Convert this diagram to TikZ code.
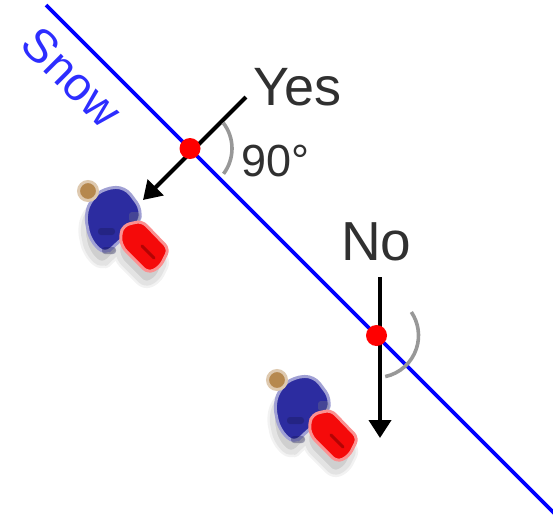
\documentclass[tikz,border=0pt]{standalone}
\usepackage{fontspec}
\setmainfont{Liberation Sans}
\usetikzlibrary{arrows.meta}

\definecolor{snowblue}{RGB}{0,0,255}
\definecolor{labelblue}{RGB}{45,45,255}
\definecolor{skin}{RGB}{182,136,78}
\definecolor{shirt}{RGB}{44,44,160}
\definecolor{pants}{RGB}{245,10,10}
\definecolor{anglegray}{RGB}{152,152,152}
\definecolor{textgray}{RGB}{48,48,48}

\tikzset{
  snowline/.style={draw=snowblue, line width=3.6pt},
  dirarrow/.style={draw=black, line width=4pt, -{Triangle[length=18pt,width=22pt]}},
  anglemark/.style={draw=anglegray, line width=3.6pt},
  hitdot/.style={circle, fill=red, minimum size=21pt, inner sep=0pt},
  caption/.style={text=textgray, inner sep=0pt},
  torsopath/.style={rounded corners=9pt},
  legspath/.style={rounded corners=6pt},
  % small walking figure seen from above; origin at the head
  walker/.pic={
    % soft shadow under the figure
    \begin{scope}[shift={(-3,12)}]
      \foreach \c/\w in {gray!10/10pt, gray!22/5pt} {
        \filldraw[fill=gray!38, draw=\c, line width=\w, line join=round, torsopath]
          (17,-3) -- (37,-4) -- (54,19) -- (50,34) -- (27,54) -- (17,64)
          -- (2,49) -- (-3,24) -- (4,7) -- cycle;
        \filldraw[fill=gray!38, draw=\c, line width=\w, line join=round, legspath]
          (36,34) -- (54,30) -- (81,58) -- (72,76) -- (60,82) -- (34,56) -- (32,44) -- cycle;
      }
    \end{scope}
    % torso and arms
    \filldraw[fill=shirt, draw=shirt!45, line width=3pt, torsopath]
      (17,-3) -- (37,-4) -- (54,19) -- (50,34) -- (27,54) -- (17,64)
      -- (2,49) -- (-3,24) -- (4,7) -- cycle;
    \fill[black!50!shirt, opacity=0.35, rounded corners=3pt] (10,37) rectangle (27,44);
    \fill[black!50!shirt, opacity=0.35, rounded corners=3pt] (14,56) rectangle (28,63);
    \fill[gray, opacity=0.3, rounded corners=3pt] (41,21) rectangle (52,31);
    % legs
    \filldraw[fill=pants, draw=pants!45, line width=3pt, legspath]
      (36,34) -- (54,30) -- (81,58) -- (72,76) -- (60,82) -- (34,56) -- (32,44) -- cycle;
    \draw[red!45!black, opacity=0.5, line width=3pt, line cap=round] (54,55) -- (66,67);
    % head
    \filldraw[fill=skin, draw=skin!45, line width=3pt] (0,0) circle [radius=9.5];
  },
}

\begin{document}
\begin{tikzpicture}[x=1pt, y=-1pt]
  \useasboundingbox (0,0) rectangle (553,515);

  % slope line
  \coordinate (snowTop) at (46,5);
  \coordinate (snowEnd) at (560,519);
  \begin{scope}
    \clip (0,0) rectangle (553,515);
    \draw[snowline] (snowTop) -- (snowEnd);
  \end{scope}
  \node[text=labelblue, rotate=-45, inner sep=0pt,
        font=\fontsize{47}{50}\selectfont] (snowlabel) at (72,77) {Snow};

  % figures
  \pic (walkerA) at (88,191) {walker};
  \pic (walkerB) at (277,380) {walker};

  % perpendicular approach
  \coordinate (yesTail) at (246,97);
  \coordinate (yesTip) at (143,200);
  \draw[dirarrow] (yesTail) -- (yesTip);

  % vertical approach
  \coordinate (noTail) at (380,277);
  \coordinate (noTip) at (380,438);
  \draw[dirarrow] (noTail) -- (noTip);

  % impact points
  \node[hitdot] (hitA) at (190,148.5) {};
  \node[hitdot] (hitB) at (376.5,335.5) {};

  % angle marks
  \draw[anglemark] (hitA) ++(37:42) arc [start angle=37, end angle=-38, radius=42];
  \draw[anglemark] (hitB) ++(78:42) arc [start angle=78, end angle=-34, radius=42];

  % labels
  \node[caption, anchor=base west, font=\fontsize{54}{60}\selectfont] (yes) at (253,105) {Yes};
  \node[caption, anchor=base west, font=\fontsize{45}{50}\selectfont] (deg) at (241,176) {90°};
  \node[caption, anchor=base west, font=\fontsize{55}{60}\selectfont] (no) at (341,260) {No};
\end{tikzpicture}
\end{document}
